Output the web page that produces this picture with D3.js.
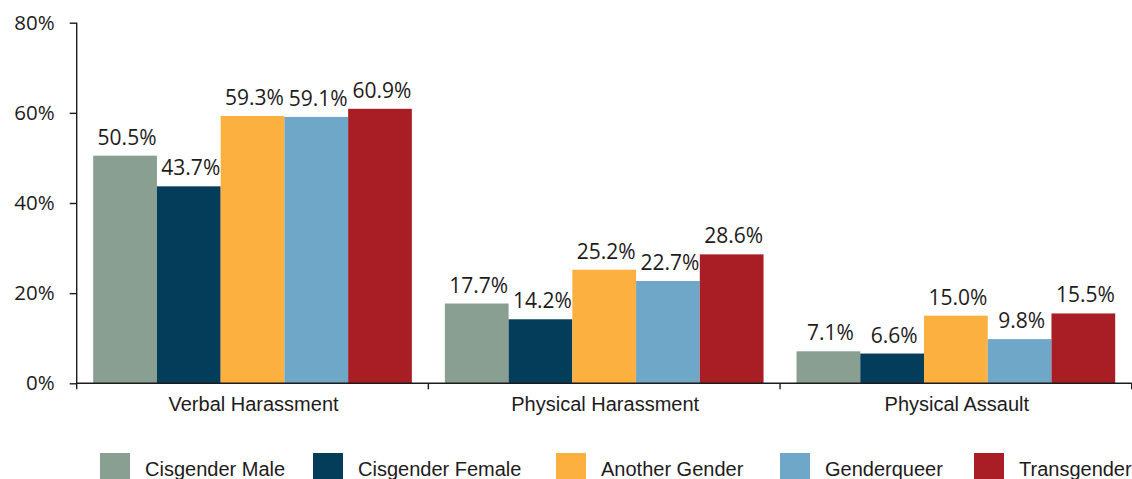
<!DOCTYPE html>
<html>
<head>
<meta charset="utf-8">
<script src="https://cdn.jsdelivr.net/npm/d3@7"></script>
<style>
  html, body { margin: 0; padding: 0; background: #fff; }
  svg { display: block; }
  .tick text { font-family: "Open Sans", "DejaVu Sans", sans-serif; font-weight: 400; }
</style>
</head>
<body>
<svg id="chart" width="1132" height="479"></svg>
<script>
// Share of respondents reporting each kind of incident, by gender identity
const categories = ["Verbal Harassment", "Physical Harassment", "Physical Assault"];
const groups = ["Cisgender Male", "Cisgender Female", "Another Gender", "Genderqueer", "Transgender"];
const cisgenderMale   = [50.5, 17.7, 7.1];
const cisgenderFemale = [43.7, 14.2, 6.6];
const anotherGender   = [59.3, 25.2, 15.0];
const genderqueer     = [59.1, 22.7, 9.8];
const transgender     = [60.9, 28.6, 15.5];
const yTicks = [0, 20, 40, 60, 80];
const colors = ["#889f92", "#033d5a", "#fbb040", "#6fa7c9", "#a91e25"];

const seriesValues = [cisgenderMale, cisgenderFemale, anotherGender, genderqueer, transgender];
const rows = categories.map((c, i) => ({
  category: c,
  values: groups.map((g, j) => ({ group: g, value: seriesValues[j][i], idx: j }))
}));

const svg = d3.select("#chart");
const plotLeft = 76.7, plotRight = 1131.7, plotTop = 22.7, plotBottom = 383.3;
const ink = "#1e1b1c";

const x0 = d3.scaleBand().domain(categories).range([plotLeft, plotRight]).padding(0);
const inner = 16.5;
const x1 = d3.scaleBand().domain(groups).range([inner, x0.bandwidth() - inner]).padding(0);
const y = d3.scaleLinear().domain([0, 80]).range([plotBottom, plotTop]);
const color = d3.scaleOrdinal().domain(groups).range(colors);

// bars
const g = svg.append("g");
const cat = g.selectAll("g.cat").data(rows).join("g")
  .attr("class", "cat")
  .attr("transform", d => `translate(${x0(d.category)},0)`);

cat.selectAll("rect").data(d => d.values).join("rect")
  .attr("x", d => x1(d.group))
  .attr("y", d => y(d.value))
  .attr("width", x1.bandwidth())
  .attr("height", d => y(0) - y(d.value))
  .attr("fill", d => color(d.group));

// value labels
cat.selectAll("text.val").data(d => d.values).join("text")
  .attr("class", "val")
  .attr("x", d => x1(d.group) + x1.bandwidth() / 2 + 2)
  .attr("y", d => y(d.value) - 11)
  .attr("text-anchor", "middle")
  .attr("font-family", "'Open Sans', sans-serif")
  .attr("font-size", 21)
  .attr("fill", ink)
  .text(d => d.value.toFixed(1) + "%");

// y axis
const yAxis = svg.append("g")
  .attr("transform", `translate(${plotLeft},0)`)
  .call(d3.axisLeft(y).tickValues(yTicks).tickFormat(d => d + "%").tickSize(7).tickPadding(15));
yAxis.select(".domain").attr("stroke", ink).attr("stroke-width", 1.4).attr("d", `M0,${plotTop}V${plotBottom}`);
yAxis.selectAll(".tick line").attr("stroke", ink).attr("stroke-width", 1.4);
yAxis.selectAll(".tick text").attr("font-size", 20.5).attr("fill", ink);

// x axis: baseline, group boundary ticks, category labels
const xg = svg.append("g");
xg.append("line")
  .attr("x1", plotLeft).attr("x2", plotRight)
  .attr("y1", plotBottom).attr("y2", plotBottom)
  .attr("stroke", ink).attr("stroke-width", 1.4);
const bounds = categories.map(c => x0(c)).concat([x0.range()[1]]);
xg.selectAll("line.b").data(bounds).join("line")
  .attr("class", "b")
  .attr("x1", d => d).attr("x2", d => d)
  .attr("y1", plotBottom).attr("y2", plotBottom + 6)
  .attr("stroke", ink).attr("stroke-width", 1.4);
xg.selectAll("text").data(categories).join("text")
  .attr("x", d => x0(d) + x0.bandwidth() / 2 + 1)
  .attr("y", 411)
  .attr("text-anchor", "middle")
  .attr("font-family", "'Liberation Sans', Arial, sans-serif")
  .attr("font-size", 20)
  .attr("fill", ink)
  .text(d => d);

// legend
const legendX = [100, 313, 556, 780, 974];
const leg = svg.append("g").selectAll("g").data(groups).join("g")
  .attr("transform", (d, i) => `translate(${legendX[i]},453)`);
leg.append("rect").attr("width", 30).attr("height", 28).attr("fill", d => color(d));
leg.append("text")
  .attr("x", 45).attr("y", 23)
  .attr("font-family", "'Liberation Sans', Arial, sans-serif")
  .attr("font-size", 20)
  .attr("fill", ink)
  .text(d => d);
</script>
</body>
</html>
